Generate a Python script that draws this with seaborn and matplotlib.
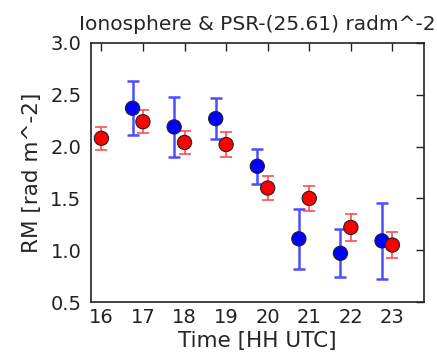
import numpy as np
import matplotlib
matplotlib.use("Agg")
import matplotlib.pyplot as plt
import seaborn as sns
import pandas as pd

# ----- DATA -----
iono_time = [16.75, 17.75, 18.75, 19.75, 20.75, 21.75, 22.75]
iono_rm = [2.37, 2.19, 2.27, 1.81, 1.11, 0.97, 1.09]
iono_err = [0.26, 0.29, 0.20, 0.17, 0.29, 0.23, 0.37]

psr_time = [16, 17, 18, 19, 20, 21, 22, 23]
psr_rm = [2.08, 2.24, 2.04, 2.02, 1.60, 1.50, 1.22, 1.05]
psr_err = [0.11, 0.11, 0.11, 0.12, 0.12, 0.12, 0.13, 0.13]

xticks = [16, 17, 18, 19, 20, 21, 22, 23]
yticks = [0.5, 1.0, 1.5, 2.0, 2.5, 3.0]

df = pd.concat([
    pd.DataFrame({"time": iono_time, "rm": iono_rm, "src": "iono"}),
    pd.DataFrame({"time": psr_time, "rm": psr_rm, "src": "psr"}),
])

# ----- PLOT -----
sns.set_style("white")
plt.rcParams['font.family'] = ['DejaVu Sans']

fig = plt.figure(figsize=(4.37, 3.52), dpi=100)
ax = fig.add_axes([91/437, 1 - 302/352, (424-91)/437, (302-43)/352])

ax.errorbar(iono_time, iono_rm, yerr=iono_err, fmt='none', ecolor=(0.3, 0.3, 1.0),
            elinewidth=1.8, capsize=4.5, capthick=1.8, zorder=1)
ax.errorbar(psr_time, psr_rm, yerr=psr_err, fmt='none', ecolor=(1.0, 0.3, 0.3),
            elinewidth=1.2, capsize=4.5, capthick=1.2, zorder=1)
sns.scatterplot(data=df, x="time", y="rm", hue="src",
                palette={"iono": "#0000ff", "psr": "#ff0000"},
                s=105, edgecolor="#222222", linewidth=0.8, legend=False, ax=ax, zorder=3)

ax.set_xlim(15.75, 23.76)
ax.set_ylim(0.5, 3.0)
ax.set_xticks(xticks)
ax.set_yticks(yticks)
ax.tick_params(direction='in', length=6, width=1, top=True, right=True,
               labelsize=14, colors='#222222')
ax.tick_params(axis='x', pad=4)
ax.tick_params(axis='y', pad=7)
for sp in ax.spines.values():
    sp.set_visible(True)
    sp.set_color('#222222')
    sp.set_linewidth(1.2)

ax.set_xlabel("Time [HH UTC]", fontsize=15.5, labelpad=3)
ax.set_ylabel("RM [rad m^-2]", fontsize=15.5, labelpad=6)
ax.set_title("Ionosphere & PSR-(25.61) radm^-2", fontsize=14.5, pad=9)

fig.savefig("out.png", dpi=100)
